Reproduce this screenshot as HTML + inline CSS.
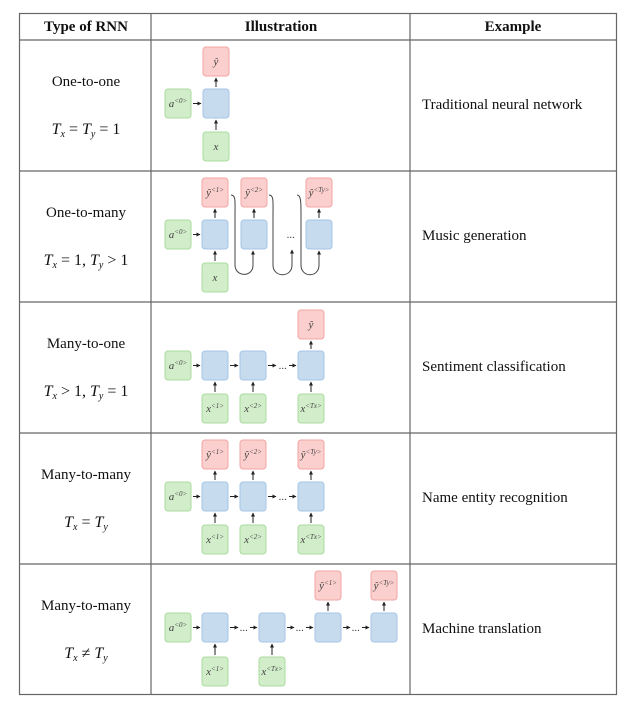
<!DOCTYPE html>
<html><head><meta charset="utf-8"><style>
html,body{margin:0;padding:0;background:#fff;}
svg{display:block;}
.t{font-family:"Liberation Serif",serif;font-size:15px;fill:#111;}
.h{font-family:"Liberation Serif",serif;font-size:15px;font-weight:bold;fill:#111;}
.m{font-family:"Liberation Serif",serif;font-size:16px;fill:#111;}
.b{font-family:"Liberation Serif",serif;font-size:11px;font-style:italic;fill:#444;}
.r{fill:#fbcfcd;stroke:#f2a5a3;stroke-width:1;}
.u{fill:#c6dbee;stroke:#a6c6e6;stroke-width:1;}
.g{fill:#d2edca;stroke:#a9dc9f;stroke-width:1;}
.a{stroke:#222;stroke-width:1;marker-end:url(#ar);}
.c{stroke:#444;stroke-width:1;fill:none;marker-end:url(#ar);}
</style></head><body>
<svg width="640" height="711" viewBox="0 0 640 711" xmlns="http://www.w3.org/2000/svg">
<defs><marker id="ar" markerWidth="4" markerHeight="4" refX="3.5" refY="2" orient="auto"><path d="M0,0 L4,2 L0,4z" fill="#222"/></marker></defs>
<g stroke="#666" stroke-width="1.2" fill="none">
<rect x="19.5" y="13.5" width="597" height="681"/>
<line x1="19" y1="40" x2="617" y2="40"/>
<line x1="19" y1="171" x2="617" y2="171"/>
<line x1="19" y1="302" x2="617" y2="302"/>
<line x1="19" y1="433" x2="617" y2="433"/>
<line x1="19" y1="564" x2="617" y2="564"/>
<line x1="151" y1="13" x2="151" y2="695"/>
<line x1="410" y1="13" x2="410" y2="695"/>
</g>
<text class="h" x="86" y="31" text-anchor="middle">Type of RNN</text>
<text class="h" x="281" y="31" text-anchor="middle">Illustration</text>
<text class="h" x="513" y="31" text-anchor="middle">Example</text>

<text class="t" x="86" y="86" text-anchor="middle">One-to-one</text>
<text class="m" x="86" y="134" text-anchor="middle" font-style="italic">T<tspan font-size="10" dy="3">x</tspan><tspan dy="-3" font-style="normal"> = </tspan>T<tspan font-size="10" dy="3">y</tspan><tspan dy="-3" font-style="normal"> = 1</tspan></text>
<text class="t" x="86" y="217" text-anchor="middle">One-to-many</text>
<text class="m" x="86" y="265" text-anchor="middle" font-style="italic">T<tspan font-size="10" dy="3">x</tspan><tspan dy="-3" font-style="normal"> = 1, </tspan>T<tspan font-size="10" dy="3">y</tspan><tspan dy="-3" font-style="normal"> &gt; 1</tspan></text>
<text class="t" x="86" y="348" text-anchor="middle">Many-to-one</text>
<text class="m" x="86" y="396" text-anchor="middle" font-style="italic">T<tspan font-size="10" dy="3">x</tspan><tspan dy="-3" font-style="normal"> &gt; 1, </tspan>T<tspan font-size="10" dy="3">y</tspan><tspan dy="-3" font-style="normal"> = 1</tspan></text>
<text class="t" x="86" y="479" text-anchor="middle">Many-to-many</text>
<text class="m" x="86" y="527" text-anchor="middle" font-style="italic">T<tspan font-size="10" dy="3">x</tspan><tspan dy="-3" font-style="normal"> = </tspan>T<tspan font-size="10" dy="3">y</tspan></text>
<text class="t" x="86" y="610" text-anchor="middle">Many-to-many</text>
<text class="m" x="86" y="658" text-anchor="middle" font-style="italic">T<tspan font-size="10" dy="3">x</tspan><tspan dy="-3" font-style="normal"> ≠ </tspan>T<tspan font-size="10" dy="3">y</tspan></text>

<text class="t" x="422" y="109">Traditional neural network</text>
<text class="t" x="422" y="240">Music generation</text>
<text class="t" x="422" y="371">Sentiment classification</text>
<text class="t" x="422" y="502">Name entity recognition</text>
<text class="t" x="422" y="633">Machine translation</text>

<!-- Row 1 -->
<rect class="r" x="203" y="47" width="26" height="29" rx="3"/><text class="b" x="216" y="65" text-anchor="middle">ŷ</text>
<rect class="g" x="165" y="89" width="26" height="29" rx="3"/><text class="b" x="178" y="107" text-anchor="middle">a<tspan font-size="7" dy="-4">&lt;0&gt;</tspan></text>
<rect class="u" x="203" y="89" width="26" height="29" rx="3"/>
<rect class="g" x="203" y="132" width="26" height="29" rx="3"/><text class="b" x="216" y="150" text-anchor="middle">x</text>
<line class="a" x1="193" y1="103.5" x2="201" y2="103.5"/>
<line class="a" x1="216" y1="87" x2="216" y2="78"/>
<line class="a" x1="216" y1="130" x2="216" y2="120"/>

<!-- Row 2 -->
<rect class="r" x="202" y="178" width="26" height="29" rx="3"/><text class="b" x="215" y="196" text-anchor="middle">ŷ<tspan font-size="7" dy="-4">&lt;1&gt;</tspan></text>
<rect class="r" x="241" y="178" width="26" height="29" rx="3"/><text class="b" x="254" y="196" text-anchor="middle">ŷ<tspan font-size="7" dy="-4">&lt;2&gt;</tspan></text>
<rect class="r" x="306" y="178" width="26" height="29" rx="3"/><text class="b" x="319" y="196" text-anchor="middle">ŷ<tspan font-size="7" dy="-4">&lt;Ty&gt;</tspan></text>
<rect class="g" x="165" y="220" width="26" height="29" rx="3"/><text class="b" x="178" y="238" text-anchor="middle">a<tspan font-size="7" dy="-4">&lt;0&gt;</tspan></text>
<rect class="u" x="202" y="220" width="26" height="29" rx="3"/>
<rect class="u" x="241" y="220" width="26" height="29" rx="3"/>
<rect class="u" x="306" y="220" width="26" height="29" rx="3"/>
<rect class="g" x="202" y="263" width="26" height="29" rx="3"/><text class="b" x="215" y="281" text-anchor="middle">x</text>
<text class="b" x="291" y="238" text-anchor="middle" font-style="normal">...</text>
<line class="a" x1="193" y1="234.5" x2="200" y2="234.5"/>
<line class="a" x1="215" y1="218" x2="215" y2="209"/>
<line class="a" x1="254" y1="218" x2="254" y2="209"/>
<line class="a" x1="319" y1="218" x2="319" y2="209"/>
<line class="a" x1="215" y1="261" x2="215" y2="251"/>
<path class="c" d="M231,195 C236,195 235,202 235,215 L235,265 C235,277 253,278 253,265 L253,251"/>
<path class="c" d="M269,195 C274,195 273,202 273,215 L273,265 C273,278 292,278 292,265 L292,250"/>
<path class="c" d="M297,195 C301,195 301,202 301,215 L301,265 C301,278 319,278 319,265 L319,251"/>

<!-- Row 3 -->
<rect class="r" x="298" y="310" width="26" height="29" rx="3"/><text class="b" x="311" y="328" text-anchor="middle">ŷ</text>
<rect class="g" x="165" y="351" width="26" height="29" rx="3"/><text class="b" x="178" y="369" text-anchor="middle">a<tspan font-size="7" dy="-4">&lt;0&gt;</tspan></text>
<rect class="u" x="202" y="351" width="26" height="29" rx="3"/>
<rect class="u" x="240" y="351" width="26" height="29" rx="3"/>
<rect class="u" x="298" y="351" width="26" height="29" rx="3"/>
<rect class="g" x="202" y="394" width="26" height="29" rx="3"/><text class="b" x="215" y="412" text-anchor="middle">x<tspan font-size="7" dy="-4">&lt;1&gt;</tspan></text>
<rect class="g" x="240" y="394" width="26" height="29" rx="3"/><text class="b" x="253" y="412" text-anchor="middle">x<tspan font-size="7" dy="-4">&lt;2&gt;</tspan></text>
<rect class="g" x="298" y="394" width="26" height="29" rx="3"/><text class="b" x="311" y="412" text-anchor="middle">x<tspan font-size="7" dy="-4">&lt;Tx&gt;</tspan></text>
<line class="a" x1="193" y1="365.5" x2="200" y2="365.5"/>
<line class="a" x1="230" y1="365.5" x2="238" y2="365.5"/>
<line class="a" x1="268" y1="365.5" x2="276" y2="365.5"/>
<text class="b" x="283" y="369" text-anchor="middle" font-style="normal">...</text>
<line class="a" x1="289" y1="365.5" x2="296" y2="365.5"/>
<line class="a" x1="311" y1="349" x2="311" y2="341"/>
<line class="a" x1="215" y1="392" x2="215" y2="382"/>
<line class="a" x1="253" y1="392" x2="253" y2="382"/>
<line class="a" x1="311" y1="392" x2="311" y2="382"/>

<!-- Row 4 -->
<rect class="r" x="202" y="440" width="26" height="29" rx="3"/><text class="b" x="215" y="458" text-anchor="middle">ŷ<tspan font-size="7" dy="-4">&lt;1&gt;</tspan></text>
<rect class="r" x="240" y="440" width="26" height="29" rx="3"/><text class="b" x="253" y="458" text-anchor="middle">ŷ<tspan font-size="7" dy="-4">&lt;2&gt;</tspan></text>
<rect class="r" x="298" y="440" width="26" height="29" rx="3"/><text class="b" x="311" y="458" text-anchor="middle">ŷ<tspan font-size="7" dy="-4">&lt;Ty&gt;</tspan></text>
<rect class="g" x="165" y="482" width="26" height="29" rx="3"/><text class="b" x="178" y="500" text-anchor="middle">a<tspan font-size="7" dy="-4">&lt;0&gt;</tspan></text>
<rect class="u" x="202" y="482" width="26" height="29" rx="3"/>
<rect class="u" x="240" y="482" width="26" height="29" rx="3"/>
<rect class="u" x="298" y="482" width="26" height="29" rx="3"/>
<rect class="g" x="202" y="525" width="26" height="29" rx="3"/><text class="b" x="215" y="543" text-anchor="middle">x<tspan font-size="7" dy="-4">&lt;1&gt;</tspan></text>
<rect class="g" x="240" y="525" width="26" height="29" rx="3"/><text class="b" x="253" y="543" text-anchor="middle">x<tspan font-size="7" dy="-4">&lt;2&gt;</tspan></text>
<rect class="g" x="298" y="525" width="26" height="29" rx="3"/><text class="b" x="311" y="543" text-anchor="middle">x<tspan font-size="7" dy="-4">&lt;Tx&gt;</tspan></text>
<line class="a" x1="193" y1="496.5" x2="200" y2="496.5"/>
<line class="a" x1="230" y1="496.5" x2="238" y2="496.5"/>
<line class="a" x1="268" y1="496.5" x2="276" y2="496.5"/>
<text class="b" x="283" y="500" text-anchor="middle" font-style="normal">...</text>
<line class="a" x1="289" y1="496.5" x2="296" y2="496.5"/>
<line class="a" x1="215" y1="480" x2="215" y2="471"/>
<line class="a" x1="253" y1="480" x2="253" y2="471"/>
<line class="a" x1="311" y1="480" x2="311" y2="471"/>
<line class="a" x1="215" y1="523" x2="215" y2="513"/>
<line class="a" x1="253" y1="523" x2="253" y2="513"/>
<line class="a" x1="311" y1="523" x2="311" y2="513"/>

<!-- Row 5 -->
<rect class="r" x="315" y="571" width="26" height="29" rx="3"/><text class="b" x="328" y="589" text-anchor="middle">ŷ<tspan font-size="7" dy="-4">&lt;1&gt;</tspan></text>
<rect class="r" x="371" y="571" width="26" height="29" rx="3"/><text class="b" x="384" y="589" text-anchor="middle">ŷ<tspan font-size="7" dy="-4">&lt;Ty&gt;</tspan></text>
<rect class="g" x="165" y="613" width="26" height="29" rx="3"/><text class="b" x="178" y="631" text-anchor="middle">a<tspan font-size="7" dy="-4">&lt;0&gt;</tspan></text>
<rect class="u" x="202" y="613" width="26" height="29" rx="3"/>
<rect class="u" x="259" y="613" width="26" height="29" rx="3"/>
<rect class="u" x="315" y="613" width="26" height="29" rx="3"/>
<rect class="u" x="371" y="613" width="26" height="29" rx="3"/>
<rect class="g" x="202" y="657" width="26" height="29" rx="3"/><text class="b" x="215" y="675" text-anchor="middle">x<tspan font-size="7" dy="-4">&lt;1&gt;</tspan></text>
<rect class="g" x="259" y="657" width="26" height="29" rx="3"/><text class="b" x="272" y="675" text-anchor="middle">x<tspan font-size="7" dy="-4">&lt;Tx&gt;</tspan></text>
<line class="a" x1="193" y1="627.5" x2="200" y2="627.5"/>
<line class="a" x1="230" y1="627.5" x2="238" y2="627.5"/>
<text class="b" x="244" y="631" text-anchor="middle" font-style="normal">...</text>
<line class="a" x1="250" y1="627.5" x2="257" y2="627.5"/>
<line class="a" x1="287" y1="627.5" x2="294" y2="627.5"/>
<text class="b" x="300" y="631" text-anchor="middle" font-style="normal">...</text>
<line class="a" x1="306" y1="627.5" x2="313" y2="627.5"/>
<line class="a" x1="343" y1="627.5" x2="350" y2="627.5"/>
<text class="b" x="356" y="631" text-anchor="middle" font-style="normal">...</text>
<line class="a" x1="362" y1="627.5" x2="369" y2="627.5"/>
<line class="a" x1="328" y1="611" x2="328" y2="602"/>
<line class="a" x1="384" y1="611" x2="384" y2="602"/>
<line class="a" x1="215" y1="655" x2="215" y2="644"/>
<line class="a" x1="272" y1="655" x2="272" y2="644"/>
</svg>
</body></html>
